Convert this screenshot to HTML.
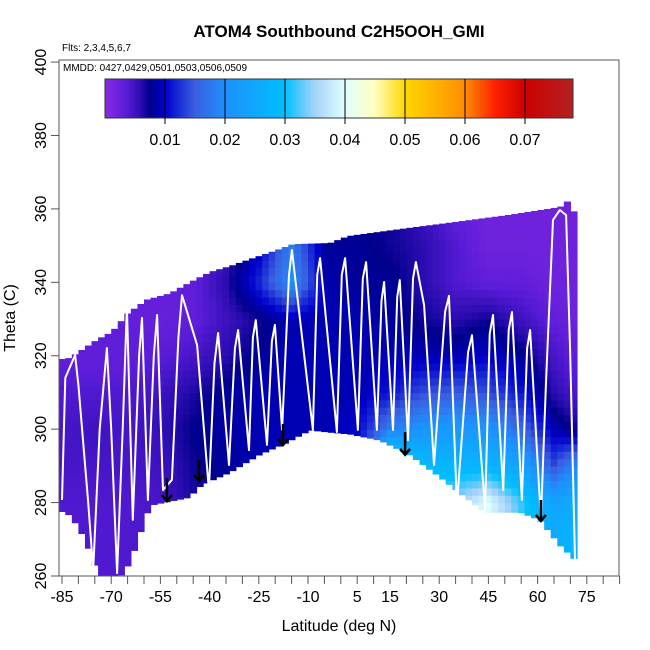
<!DOCTYPE html>
<html><head><meta charset="utf-8"><style>
html,body{margin:0;padding:0;background:#fff;}
svg{display:block;font-family:"Liberation Sans",Arial,sans-serif;}
</style></head><body>
<svg id="chart" width="650" height="650" viewBox="0 0 650 650" xmlns="http://www.w3.org/2000/svg">
<defs>
<linearGradient id="cbgrad" x1="0" x2="1" y1="0" y2="0"></linearGradient>
<clipPath id="plotclip"><rect x="59" y="60" width="560" height="516"/></clipPath>
</defs>
<text x="339" y="37" text-anchor="middle" font-size="17" font-weight="bold">ATOM4 Southbound C2H5OOH_GMI</text>
<text x="62" y="51" font-size="10">Flts: 2,3,4,5,6,7</text>
<g id="heat" clip-path="url(#plotclip)"></g>
<g id="track" clip-path="url(#plotclip)"></g>
<g id="arrows"></g>
<rect x="59" y="60" width="560" height="516" fill="none" stroke="#555" stroke-width="1"/>
<text x="63" y="71" font-size="10">MMDD: 0427,0429,0501,0503,0506,0509</text>
<rect id="cbar" x="105" y="79" width="468" height="39" fill="url(#cbgrad)" stroke="#333" stroke-width="1"/>
<g id="cbticks"></g>
<g id="xaxis"></g>
<g id="yaxis"></g>
<text x="339" y="631" text-anchor="middle" font-size="16">Latitude (deg N)</text>
<text x="15" y="318" text-anchor="middle" font-size="16" transform="rotate(-90 15 318)">Theta (C)</text>
</svg>
<script>
// ---- data ----
const xTicks = [-85,-80,-75,-70,-65,-60,-55,-50,-45,-40,-35,-30,-25,-20,-15,-10,-5,0,5,10,15,20,25,30,35,40,45,50,55,60,65,70,75,80,85];
const xTickLabels = [-85,-70,-55,-40,-25,-10,5,15,30,45,60,75];
const yTicks = [260,280,300,320,340,360,380,400];
const cbTicks = [0.01,0.02,0.03,0.04,0.05,0.06,0.07];
// value grid (thousandths)
const gridLat = [-85,-75,-65,-55,-45,-35,-25,-15,-5,5,15,25,35,45,55,65,72];
const gridTheta = [260,270,280,290,300,310,320,330,340,350,360];
const gridVals = [
 [4,4,4,4.5,6,7,8,9,9,9,30,33,35,38,30,26,28],
 [4,4,4,4.5,6,7,8,9,9,9,30,33,35,38,30,26,28],
 [4,4,4,4.5,6.5,7.5,8,9,9,9,32,33,35,40,32,24,26],
 [4.5,4.5,4.5,5,7,8,9,9,9,9,38,29,28,28,24,14,20],
 [4.5,5,4.5,5.5,7.5,8.5,9,9,9,10,18,21,22,21,16,9,7],
 [4,4,4,5,6.5,8,9,9,9,9,11,14,15,14,11,6,4],
 [3,3,3,3.5,4.5,6,8,9,9,9,9,9,9,10,8,4.5,3],
 [3,3,3,2.5,3,5,7,9,9,9,8,7,6,7,5,3,2],
 [3,3,3,3,3,6,12,20,9,8,8,6,4,3,3,2,2],
 [3,3,3,3,3,5,9,18,8,8,7,6,4,2,2,2,2],
 [3,3,3,3,3,4,7,8,8,8,7,5,3,2,2,2,2]
];
const topLat = [-86,-82.6,-78.3,-74.3,-69.8,-64.9,-59.1,-52.1,-46,-39.9,-33.5,-27.1,-20.4,-14.6,-3.3,2.2,18,34.5,50.7,66.8,69,72];
const topTheta = [319,319.4,322,324.4,326.5,331.6,335.3,337,340,342.8,344.5,346.5,348.5,350.4,350.7,352.6,354.5,356.4,358.3,360.5,362,358];
const botLat = [-86,-82.6,-79.5,-76.5,-75,-73.4,-67.3,-65.2,-63.7,-58.2,-50.5,-46,-43.8,-39.9,-33.8,-29.2,-24.6,-17,-9.4,-3.3,2.8,12,21.1,30.2,37.9,44,54.6,60.7,66.8,72];
const botTheta = [278,276.6,272.6,266.6,263,260,260,262.4,265.2,279.3,280.7,281.5,284,285.9,288.3,290.8,293.2,296.2,299.8,299.2,298.7,297,293,287,281.5,277.4,277.4,275.3,268.4,264];
const trackLat = [-85,-84,-81,-80,-77,-75.5,-73.5,-71.3,-70,-68.2,-66.5,-65.2,-63.4,-61.5,-60.6,-58.8,-57,-56,-54.2,-51.5,-49.5,-48.4,-43.8,-40.2,-38.5,-37.4,-34.1,-32.3,-31.3,-28,-26.8,-25.9,-22.5,-21,-20.1,-17.9,-15.8,-14.9,-8.5,-7.2,-6.3,-1.2,0.3,1.3,5.2,6.7,7.7,11,12.4,13.2,15.9,17.2,18,20.5,22,22.9,25.4,28.4,31.8,33,35.4,38.8,40,44,45.4,46.4,49.5,51.2,52.2,55.2,56.8,57.7,61,62.6,64.7,66.8,68.7,69.9,71.4];
const trackTheta = [280.7,314,320.2,312,280,261.6,300,322.1,300,260.8,300,333.3,275.3,320,330.3,280.7,320,331.1,283.4,286.2,325,336.5,322.9,283.4,318,326.2,290.2,322,327,294.3,325,329.7,295.7,324,328.4,299.8,342,348.8,299.8,342,346.6,299.2,342,346.6,299.8,341,345.5,299.8,335,340.1,299.8,336,340.6,297,341,345.5,333.8,290.2,332,336.3,279.3,321,325.6,278,326,331.1,283.4,327,331.9,280.7,322,327,275.3,313.4,357,359.7,358.3,321.6,264.4];
const arrowLat = [-53,-43.2,-17.6,19.6,61];
const arrowTop = [286.7,291.6,301.4,299.2,280.7];
const arrowBot = [280.4,285.9,295.7,293,275];

// ---- scales ----
const X = lat => 62 + (lat + 85) * 3.28;
const Y = th => 576 - (th - 260) * 3.671;
const NS = 'http://www.w3.org/2000/svg';
function mk(tag, attrs, parent){const e=document.createElementNS(NS,tag);for(const k in attrs)e.setAttribute(k,attrs[k]);parent.appendChild(e);return e;}

const cStops = [[0,'#8a2be2'],[0.0035,'#5a1cd8'],[0.006,'#2a0cb0'],[0.0075,'#00008b'],[0.01,'#0000cd'],[0.015,'#3a5fe0'],[0.02,'#1e90ff'],[0.03,'#00bfff'],[0.035,'#a6d2fa'],[0.04,'#e0ffff'],[0.045,'#ffffc0'],[0.05,'#ffd700'],[0.06,'#ff8c00'],[0.065,'#ff2000'],[0.07,'#cd0000'],[0.078,'#b22222']];
function hex2rgb(h){return [parseInt(h.substr(1,2),16),parseInt(h.substr(3,2),16),parseInt(h.substr(5,2),16)];}
function color(v){
  if(v<=cStops[0][0]) return cStops[0][1];
  for(let i=1;i<cStops.length;i++){
    if(v<=cStops[i][0]){const a=cStops[i-1],b=cStops[i];const t=(v-a[0])/(b[0]-a[0]);
      const ca=hex2rgb(a[1]),cb=hex2rgb(b[1]);
      return 'rgb('+ca.map((c,j)=>Math.round(c+(cb[j]-c)*t)).join(',')+')';}
  }
  return cStops[cStops.length-1][1];
}
const grad=document.getElementById('cbgrad');
cStops.forEach(s=>{mk('stop',{offset:(s[0]/0.078*100).toFixed(2)+'%','stop-color':s[1]},grad);});

function interp1(xs,ys,x){
  if(x<=xs[0])return ys[0]; if(x>=xs[xs.length-1])return ys[ys.length-1];
  for(let i=1;i<xs.length;i++) if(x<=xs[i]){const t=(x-xs[i-1])/(xs[i]-xs[i-1]);return ys[i-1]+(ys[i]-ys[i-1])*t;}
}
function field(lat,th){
  const row = gridTheta.map((t,i)=>interp1(gridLat,gridVals[i],lat));
  return interp1(gridTheta,row,th)/1000;
}

const heat=document.getElementById('heat');
const dLat=2, dTh=2;
for(let lat=-86; lat<72; lat+=dLat){
  const c=lat+dLat/2;
  const top=interp1(topLat,topTheta,c), bot=interp1(botLat,botTheta,c);
  const t0=Math.floor(bot/dTh)*dTh;
  for(let th=t0; th<top; th+=dTh){
    const lo=Math.max(th,bot), hi=Math.min(th+dTh,top);
    if(hi<=lo) continue;
    const r=mk('rect',{x:X(lat).toFixed(2),y:Y(hi).toFixed(2),width:(dLat*3.28+0.6).toFixed(2),height:((hi-lo)*3.671+0.6).toFixed(2),fill:color(field(c,(lo+hi)/2))},heat);
    
    
  }
}

const trk=document.getElementById('track');
const pts=trackLat.map((l,i)=>X(l).toFixed(1)+','+Y(trackTheta[i]).toFixed(1)).join(' ');
const pl=mk('polyline',{points:pts,fill:'none',stroke:'#fff','stroke-width':2,'stroke-linejoin':'round'},trk);



const ag=document.getElementById('arrows');
arrowLat.forEach((l,i)=>{
  const x=X(l), y1=Y(arrowTop[i]), y2=Y(arrowBot[i]);
  const g=mk('g',{},ag);
  
  
  mk('line',{x1:x,y1:y1,x2:x,y2:y2,stroke:'#000','stroke-width':2.5},g);
  mk('polyline',{points:(x-5)+','+(y2-6)+' '+x+','+y2+' '+(x+5)+','+(y2-6),fill:'none',stroke:'#000','stroke-width':2.5},g);
});

const cbt=document.getElementById('cbticks');
const CBX = v => 105 + v/0.078*468;
cbTicks.forEach(v=>{
  const ln=mk('line',{x1:CBX(v),x2:CBX(v),y1:79,y2:124,stroke:'#000','stroke-width':1},cbt);
  
  
  const t=mk('text',{x:CBX(v),y:145,'text-anchor':'middle','font-size':16},cbt);
  t.textContent=v.toFixed(2);
  
  
});

const xa=document.getElementById('xaxis');
xTicks.forEach(v=>{
  const ln=mk('line',{x1:X(v),x2:X(v),y1:576,y2:584,stroke:'#555','stroke-width':1},xa);
  
  
});
xTickLabels.forEach(v=>{
  const t=mk('text',{x:X(v),y:602,'text-anchor':'middle','font-size':16},xa);
  t.textContent=v;
  
  
});
const ya=document.getElementById('yaxis');
yTicks.forEach(v=>{
  const y=Y(v);
  const ln=mk('line',{x1:51,x2:59,y1:y,y2:y,stroke:'#555','stroke-width':1},ya);
  
  
  const t=mk('text',{x:46,y:y,'text-anchor':'middle','font-size':16,transform:'rotate(-90 46 '+y+')'},ya);
  t.textContent=v;
  
  
});
</script>
</body></html>
